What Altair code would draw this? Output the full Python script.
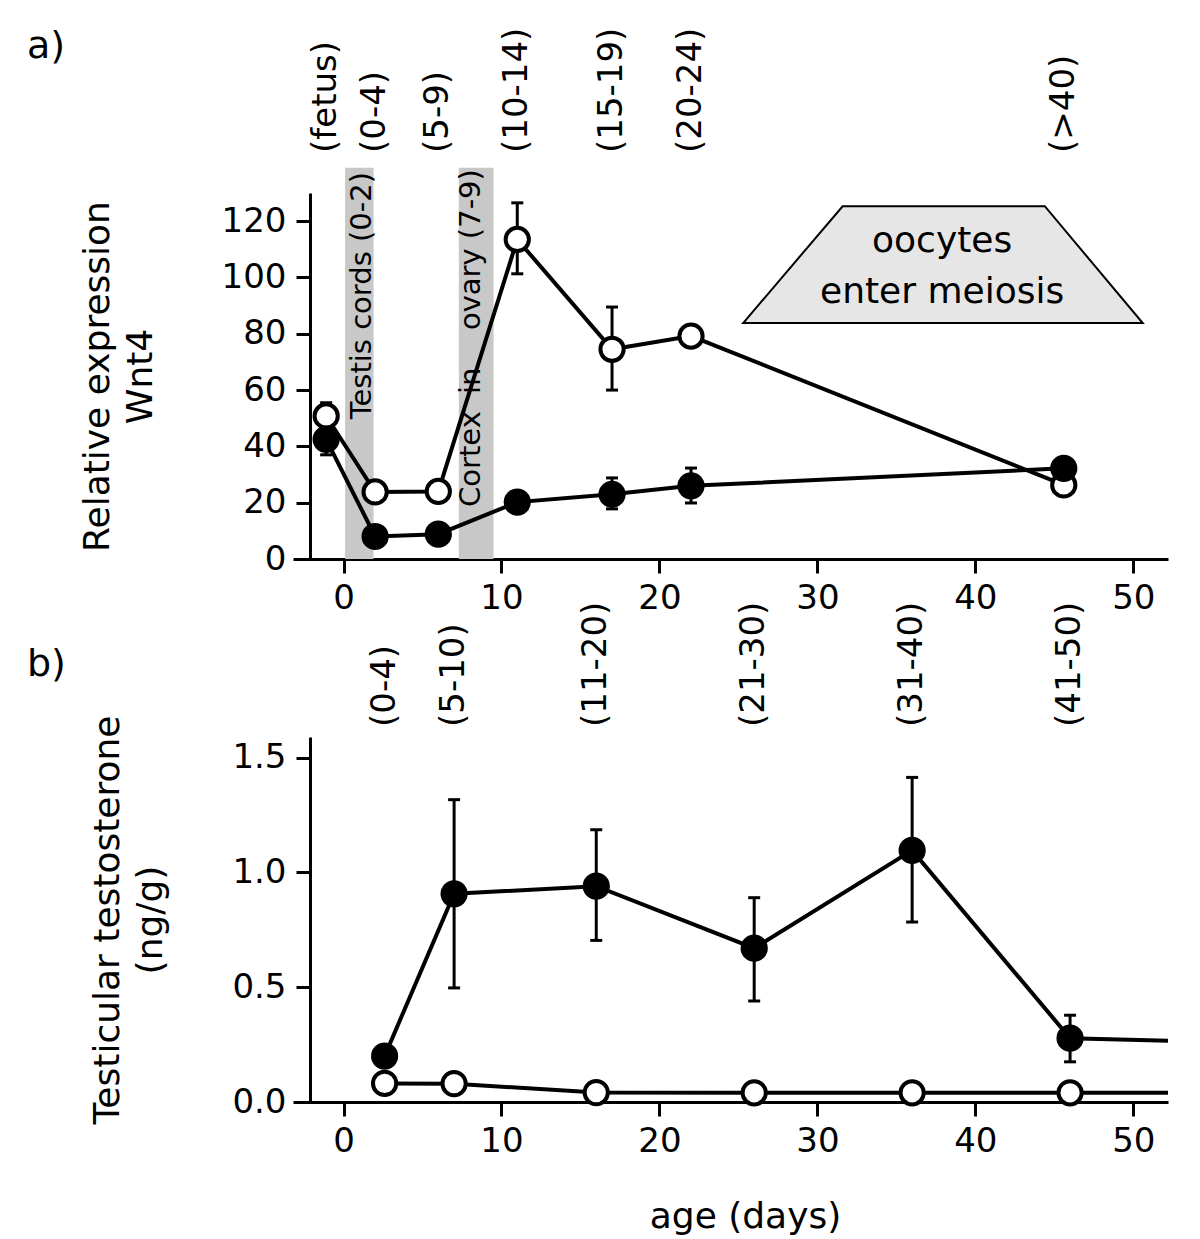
import altair as alt
import pandas as pd

FONT = "DejaVu Sans"

# ---------------- panel a data ----------------
a_age = [-1.1, 2, 6, 11, 17, 22, 45.6]
a_open = [50.8, 23.8, 24.0, 113.5, 74.5, 79.2, 26.3]
a_filled = [42.5, 8.0, 8.8, 20.2, 23.0, 26.0, 32.2]
a_labels = ["(fetus)", "(0-4)", "(5-9)", "(10-14)", "(15-19)", "(20-24)", "(>40)"]

a_open_err_age = [-1.1, 2, 11, 17, 22, 45.6]
a_open_err_lo = [46.0, 21.5, 101.3, 60.0, 76.3, 24.5]
a_open_err_hi = [55.5, 26.0, 126.5, 89.5, 83.0, 28.0]
a_filled_err_age = [-1.1, 17, 22]
a_filled_err_lo = [37.0, 17.8, 19.9]
a_filled_err_hi = [48.0, 28.8, 32.3]

band_start = [0.1, 7.3]
band_end = [1.9, 9.5]
band_bottom = [0, 0]
band_top = [139, 139]

band_text = ["Testis cords (0-2)", "Cortex", "in", "ovary (7-9)"]
band_text_age = [1.15, 8.1, 8.1, 8.1]
band_text_val = [49.6, 18.5, 58.6, 81.3]

trap_age = [25.3, 31.6, 44.4, 50.6]
trap_top = [83.8, 125.3, 125.3, 83.8]
trap_bottom = [83.8, 83.8, 83.8, 83.8]
trap_text = ["oocytes", "enter meiosis"]
trap_text_age = [37.9, 37.9]
trap_text_val = [112.9, 94.8]

# ---------------- panel b data ----------------
b_age = [2.6, 7, 16, 26, 36, 46]
b_filled = [0.20, 0.907, 0.94, 0.67, 1.096, 0.278]
b_open = [0.081, 0.080, 0.041, 0.040, 0.040, 0.040]
b_labels = ["(0-4)", "(5-10)", "(11-20)", "(21-30)", "(31-40)", "(41-50)"]
b_err_age = [7, 16, 26, 36, 46]
b_err_lo = [0.497, 0.704, 0.44, 0.784, 0.175]
b_err_hi = [1.317, 1.186, 0.89, 1.414, 0.378]
b_line_age = b_age + [52.2]
b_filled_line = b_filled + [0.267]
b_open_line = b_open + [0.040]

x_ticks = [0, 10, 20, 30, 40, 50]
a_y_ticks = [0, 20, 40, 60, 80, 100, 120]
b_y_ticks = [0.0, 0.5, 1.0, 1.5]

# ---------------- scales & axes ----------------
xscale = alt.Scale(domain=[-3.2, 52.2], nice=False, zero=False)
ya_scale = alt.Scale(domain=[0, 130], nice=False)
yb_scale = alt.Scale(domain=[0, 1.59], nice=False)

axis_common = dict(grid=False, domainColor="black", domainWidth=3, tickColor="black",
                   tickWidth=3, tickSize=14, labelFont=FONT, labelFontSize=34,
                   labelColor="black", titleFont=FONT, titleFontSize=36,
                   titleFontWeight="normal", titleColor="black")

xa_axis = alt.Axis(values=x_ticks, labelPadding=8, title="", **axis_common)
xb_axis = alt.Axis(values=x_ticks, labelPadding=8, title="age (days)",
                   titlePadding=41, titleX=452, **axis_common)
ya_axis = alt.Axis(values=a_y_ticks, offset=-17, labelPadding=10,
                   title=["Relative expression", "Wnt4"], titleLineHeight=43,
                   titlePadding=62, **axis_common)
yb_axis = alt.Axis(values=b_y_ticks, format=".1f", offset=-17, labelPadding=10,
                   title=["Testicular testosterone", "(ng/g)"], titleLineHeight=43,
                   titlePadding=62, **axis_common)

W, HA, HB = 875, 366, 365
FILLED_SIZE = 740
OPEN_SIZE = 540

# ---------------- panel a ----------------
df_a = pd.DataFrame({"age": a_age, "open": a_open, "filled": a_filled, "lab": a_labels})
df_aoe = pd.DataFrame({"age": a_open_err_age, "lo": a_open_err_lo, "hi": a_open_err_hi})
df_afe = pd.DataFrame({"age": a_filled_err_age, "lo": a_filled_err_lo, "hi": a_filled_err_hi})
df_band = pd.DataFrame({"s": band_start, "e": band_end, "b": band_bottom, "t": band_top})
df_btext = pd.DataFrame({"age": band_text_age, "v": band_text_val, "txt": band_text})
df_trap = pd.DataFrame({"age": trap_age, "top": trap_top, "bot": trap_bottom})
df_ttext = pd.DataFrame({"age": trap_text_age, "v": trap_text_val, "txt": trap_text})


def X(field):
    return alt.X(field, type="quantitative", scale=xscale, axis=xa_axis)


def YA(field):
    return alt.Y(field, type="quantitative", scale=ya_scale, axis=ya_axis)


def caps(df, xf, yf, field):
    return alt.Chart(df).mark_tick(orient="horizontal", color="black", size=12,
                                   thickness=3, opacity=1).encode(x=xf("age"), y=yf(field))


bands = alt.Chart(df_band).mark_rect(color="#c8c8c8").encode(
    x=X("s"), x2="e", y=YA("t"), y2="b")
btext = alt.Chart(df_btext).mark_text(angle=270, align="left", baseline="middle",
                                     font=FONT, fontSize=29, color="black").encode(
    x=X("age"), y=YA("v"), text="txt:N")
trap = alt.Chart(df_trap).mark_area(fill="#e6e6e6", stroke="black", strokeWidth=2,
                                   opacity=1, fillOpacity=1).encode(
    x=X("age"), y=YA("top"), y2="bot")
ttext = alt.Chart(df_ttext).mark_text(align="center", baseline="middle", font=FONT,
                                     fontSize=36, color="black").encode(
    x=X("age"), y=YA("v"), text="txt:N")
a_line_open = alt.Chart(df_a).mark_line(color="black", strokeWidth=4).encode(
    x=X("age"), y=YA("open"))
a_line_filled = alt.Chart(df_a).mark_line(color="black", strokeWidth=4).encode(
    x=X("age"), y=YA("filled"))
a_err_o = alt.Chart(df_aoe).mark_rule(color="black", strokeWidth=3).encode(
    x=X("age"), y=YA("lo"), y2="hi")
a_err_f = alt.Chart(df_afe).mark_rule(color="black", strokeWidth=3).encode(
    x=X("age"), y=YA("lo"), y2="hi")
a_pts_filled = alt.Chart(df_a).mark_point(shape="circle", filled=True, fill="black",
                                         stroke="black", strokeWidth=0, size=FILLED_SIZE,
                                         opacity=1).encode(x=X("age"), y=YA("filled"))
a_pts_open = alt.Chart(df_a).mark_point(shape="circle", filled=True, fill="white",
                                       stroke="black", strokeWidth=4, size=OPEN_SIZE,
                                       opacity=1).encode(x=X("age"), y=YA("open"))
a_labs = alt.Chart(df_a).mark_text(angle=270, align="left", baseline="middle", font=FONT,
                                  fontSize=34, color="black").encode(
    x=X("age"), y=alt.value(-40), text="lab:N")
a_letter = alt.Chart(pd.DataFrame({"t": ["a)"]})).mark_text(
    align="left", baseline="middle", font=FONT, fontSize=38, color="black").encode(
    x=alt.value(-266), y=alt.value(-146), text="t:N")

panel_a = alt.layer(bands, btext, trap, ttext, a_line_open, a_line_filled,
                    a_err_o, caps(df_aoe, X, YA, "lo"), caps(df_aoe, X, YA, "hi"),
                    a_err_f, caps(df_afe, X, YA, "lo"), caps(df_afe, X, YA, "hi"),
                    a_pts_open, a_pts_filled, a_labs, a_letter).properties(width=W, height=HA)

# ---------------- panel b ----------------
df_b = pd.DataFrame({"age": b_age, "open": b_open, "filled": b_filled, "lab": b_labels})
df_bl = pd.DataFrame({"age": b_line_age, "open": b_open_line, "filled": b_filled_line})
df_be = pd.DataFrame({"age": b_err_age, "lo": b_err_lo, "hi": b_err_hi})


def XB(field):
    return alt.X(field, type="quantitative", scale=xscale, axis=xb_axis)


def YB(field):
    return alt.Y(field, type="quantitative", scale=yb_scale, axis=yb_axis)


b_line_open = alt.Chart(df_bl).mark_line(color="black", strokeWidth=4).encode(
    x=XB("age"), y=YB("open"))
b_line_filled = alt.Chart(df_bl).mark_line(color="black", strokeWidth=4).encode(
    x=XB("age"), y=YB("filled"))
b_err = alt.Chart(df_be).mark_rule(color="black", strokeWidth=3).encode(
    x=XB("age"), y=YB("lo"), y2="hi")
b_pts_filled = alt.Chart(df_b).mark_point(shape="circle", filled=True, fill="black",
                                         stroke="black", strokeWidth=0, size=FILLED_SIZE,
                                         opacity=1).encode(x=XB("age"), y=YB("filled"))
b_pts_open = alt.Chart(df_b).mark_point(shape="circle", filled=True, fill="white",
                                       stroke="black", strokeWidth=4, size=OPEN_SIZE,
                                       opacity=1).encode(x=XB("age"), y=YB("open"))
b_labs = alt.Chart(df_b).mark_text(angle=270, align="left", baseline="middle", font=FONT,
                                  fontSize=34, color="black").encode(
    x=XB("age"), y=alt.value(-10), text="lab:N")
b_letter = alt.Chart(pd.DataFrame({"t": ["b)"]})).mark_text(
    align="left", baseline="middle", font=FONT, fontSize=38, color="black").encode(
    x=alt.value(-266), y=alt.value(-72), text="t:N")

panel_b = alt.layer(b_line_open, b_line_filled, b_err,
                    caps(df_be, XB, YB, "lo"), caps(df_be, XB, YB, "hi"),
                    b_pts_filled, b_pts_open, b_labs, b_letter).properties(width=W, height=HB)

chart = alt.vconcat(panel_a, panel_b, spacing=178, bounds="flush").properties(
    padding={"left": 19, "top": 19, "right": 5, "bottom": 5},
    background="white",
).configure_view(strokeWidth=0)

chart.save("out.html", embed_options={"renderer": "svg", "actions": False})
